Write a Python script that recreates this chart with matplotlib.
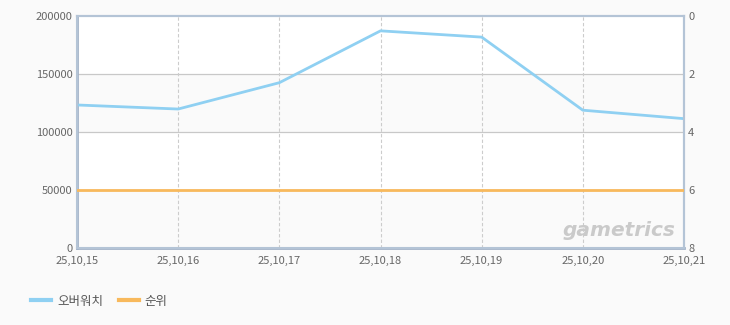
import matplotlib
matplotlib.use("Agg")
import matplotlib.pyplot as plt
from matplotlib.lines import Line2D

plt.rcParams['font.family'] = ['Noto Sans CJK KR', 'DejaVu Sans']

dates = ["25,10,15", "25,10,16", "25,10,17", "25,10,18", "25,10,19", "25,10,20", "25,10,21"]
users = [123300, 119800, 142500, 187200, 181800, 118800, 111500]
rank = [6, 6, 6, 6, 6, 6, 6]
series_names = ["오버워치", "순위"]
y_ticks = [0, 50000, 100000, 150000, 200000]
rank_ticks = [0, 2, 4, 6, 8]

blue = "#8fd0f2"
orange = "#f8b95c"
txt = "#666666"

fig = plt.figure(figsize=(7.3, 3.25), dpi=100)
fig.patch.set_facecolor("#fafafa")
W, H = 730, 325
ax = fig.add_axes([77 / W, (H - 248) / H, 607 / W, 232 / H])
ax.set_facecolor("white")

x = list(range(len(dates)))
# alternating bands
for i in range(len(y_ticks) - 1):
    if i % 2 == 0:
        ax.axhspan(y_ticks[i], y_ticks[i + 1], color="#fafafa", zorder=0, lw=0)
for v in y_ticks[1:-1]:
    ax.axhline(v, color="#c8c8c8", lw=0.9, zorder=1)
for xi in x[1:-1]:
    ax.axvline(xi, color="#cccccc", lw=0.8, ls=(0, (3, 2)), zorder=1)

ax.plot(x, users, color=blue, lw=2, zorder=3, solid_capstyle="butt")
ax.set_xlim(0, len(dates) - 1)
ax.set_ylim(0, 200000)
ax.set_yticks(y_ticks)
ax.set_yticklabels([str(v) for v in y_ticks])
ax.set_xticks(x)
ax.set_xticklabels(dates)

ax2 = ax.twinx()
ax2.plot(x, rank, color=orange, lw=2, zorder=3)
ax2.set_ylim(8, 0)
ax2.set_yticks(rank_ticks)
ax2.set_yticklabels([str(v) for v in rank_ticks])

for a in (ax, ax2):
    a.tick_params(length=0, labelsize=8, colors=txt, pad=3)
    for s in a.spines.values():
        s.set_color("#b4c4d6")
        s.set_linewidth(1.5)
ax.spines['left'].set_color("#a3b3c8")
ax.spines['bottom'].set_color("#a3b3c8")
ax.spines['left'].set_linewidth(2)
ax.spines['bottom'].set_linewidth(2)
ax.tick_params(axis='x', pad=6)

# watermark
fig.text(619 / W, 1 - 236 / H, "gametrics", fontsize=14.5, fontweight="bold",
         style="italic", color="#cacaca", ha="center", va="baseline",
         family=["DejaVu Sans"])

# legend
handles = [Line2D([0], [0], color=blue, lw=3), Line2D([0], [0], color=orange, lw=3)]
fig.legend(handles, series_names, loc="center left", bbox_to_anchor=(25 / W, 1 - 301 / H),
           ncol=2, frameon=False, fontsize=9, labelcolor="#555555", borderpad=0,
           handlelength=1.6, handletextpad=0.45, columnspacing=1.3)

fig.savefig("out.png", dpi=100, facecolor=fig.get_facecolor())
